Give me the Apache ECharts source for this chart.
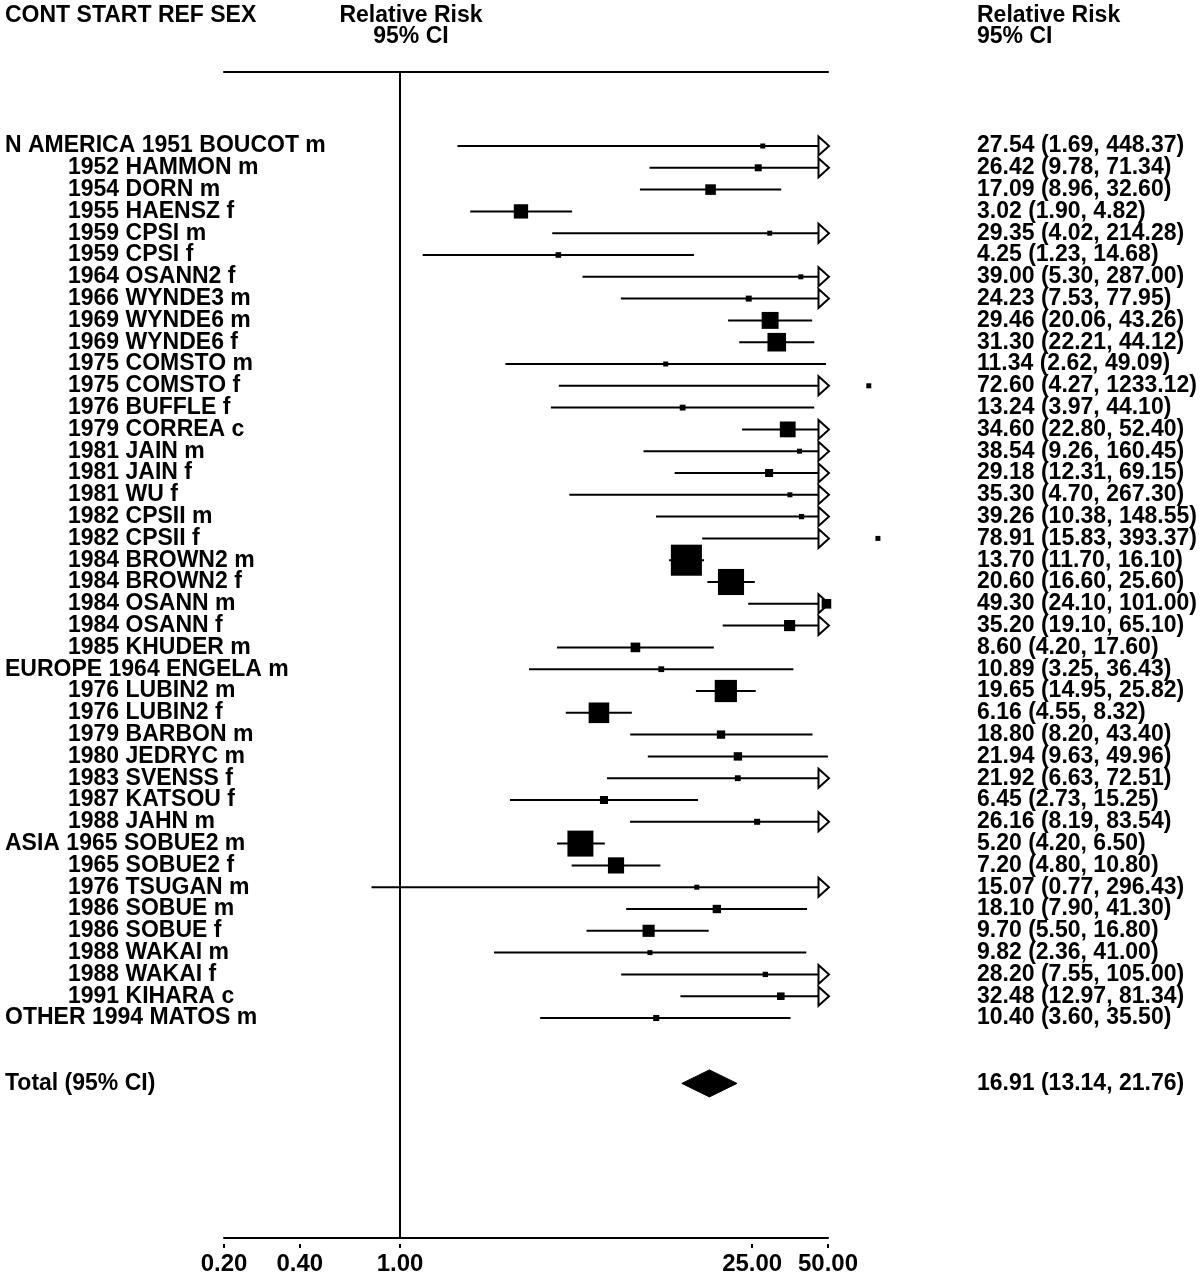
<!DOCTYPE html>
<html>
<head>
<meta charset="utf-8">
<script src="https://cdn.jsdelivr.net/npm/echarts@6/dist/echarts.min.js"></script>
<style>
html,body{margin:0;padding:0;background:#fff;}
#chart{width:1200px;height:1278px;}
</style>
</head>
<body>
<div id="chart"></div>
<script>
// ---------------- data ----------------
const regions = ['N AMERICA','','','','','','','','','','','','','','','','','','','','','','','',
  'EUROPE','','','','','','','',
  'ASIA','','','','','','','',
  'OTHER'];
const studies = ['1951 BOUCOT m','1952 HAMMON m','1954 DORN m','1955 HAENSZ f','1959 CPSI m','1959 CPSI f',
  '1964 OSANN2 f','1966 WYNDE3 m','1969 WYNDE6 m','1969 WYNDE6 f','1975 COMSTO m','1975 COMSTO f',
  '1976 BUFFLE f','1979 CORREA c','1981 JAIN m','1981 JAIN f','1981 WU f','1982 CPSII m','1982 CPSII f',
  '1984 BROWN2 m','1984 BROWN2 f','1984 OSANN m','1984 OSANN f','1985 KHUDER m',
  '1964 ENGELA m','1976 LUBIN2 m','1976 LUBIN2 f','1979 BARBON m','1980 JEDRYC m','1983 SVENSS f',
  '1987 KATSOU f','1988 JAHN m',
  '1965 SOBUE2 m','1965 SOBUE2 f','1976 TSUGAN m','1986 SOBUE m','1986 SOBUE f','1988 WAKAI m',
  '1988 WAKAI f','1991 KIHARA c',
  '1994 MATOS m'];
const rr = [27.54,26.42,17.09,3.02,29.35,4.25,39.00,24.23,29.46,31.30,11.34,72.60,13.24,34.60,38.54,29.18,
  35.30,39.26,78.91,13.70,20.60,49.30,35.20,8.60,10.89,19.65,6.16,18.80,21.94,21.92,6.45,26.16,5.20,7.20,
  15.07,18.10,9.70,9.82,28.20,32.48,10.40];
const lower = [1.69,9.78,8.96,1.90,4.02,1.23,5.30,7.53,20.06,22.21,2.62,4.27,3.97,22.80,9.26,12.31,4.70,
  10.38,15.83,11.70,16.60,24.10,19.10,4.20,3.25,14.95,4.55,8.20,9.63,6.63,2.73,8.19,4.20,4.80,0.77,7.90,
  5.50,2.36,7.55,12.97,3.60];
const upper = [448.37,71.34,32.60,4.82,214.28,14.68,287.00,77.95,43.26,44.12,49.09,1233.12,44.10,52.40,
  160.45,69.15,267.30,148.55,393.37,16.10,25.60,101.00,65.10,17.60,36.43,25.82,8.32,43.40,49.96,72.51,
  15.25,83.54,6.50,10.80,296.43,41.30,16.80,41.00,105.00,81.34,35.50];
const totalLabel = 'Total (95% CI)';
const totalRR = 16.91, totalLower = 13.14, totalUpper = 21.76;
const xTicks = [0.2, 0.4, 1, 25, 50];

// ---------------- layout ----------------
const FONT = '"Liberation Sans", Arial, Helvetica, sans-serif';
const FS = 23;
const LH = 18;
const GRID_TOP = 72, GRID_BOTTOM_Y = 1238, FIRST_ROW_Y = 146, ROW_H = 21.8;
const X_MIN = 0.2, X_MAX = 50;
const TAU2 = 0.0068, BOX_K = 3.6, BOX_MIN = 5;

const nStudies = studies.length;
const totalRow = nStudies + 2;
const yMin = -(FIRST_ROW_Y - GRID_TOP) / ROW_H;
const yMax = (GRID_BOTTOM_Y - FIRST_ROW_Y) / ROW_H;

// label slots: blank guards at both ends keep the axis from hiding the first/last row labels
const rowValues = [yMin];
const leftLabels = {};
const rightLabels = {};
for (let i = 0; i < nStudies; i++) {
  rowValues.push(i);
  leftLabels[i] = regions[i] ? regions[i] + ' ' + studies[i] : '{ind|' + studies[i] + '}';
  rightLabels[i] = rr[i].toFixed(2) + ' (' + lower[i].toFixed(2) + ', ' + upper[i].toFixed(2) + ')';
}
rowValues.push(totalRow);
rowValues.push(yMax);
leftLabels[totalRow] = totalLabel;
rightLabels[totalRow] = totalRR.toFixed(2) + ' (' + totalLower.toFixed(2) + ', ' + totalUpper.toFixed(2) + ')';

function rowText(map, v) {
  const k = Math.round(v);
  if (Math.abs(v - k) > 1e-6) return ' ';
  return map[k] || ' ';
}

const studyData = rr.map((v, i) => {
  const se = (Math.log(upper[i]) - Math.log(lower[i])) / (2 * 1.96);
  const w = 1 / (se * se + TAU2);
  return [lower[i], upper[i], v, i, w];
});

function renderStudy(params, api) {
  const lo = api.value(0), hi = api.value(1), est = api.value(2), row = api.value(3), w = api.value(4);
  const y = api.coord([1, row])[1];
  const xLo = api.coord([Math.max(lo, X_MIN), row])[0];
  const xHi = api.coord([Math.min(hi, X_MAX), row])[0];
  const xE = api.coord([est, row])[0];
  const s = Math.max(BOX_MIN, BOX_K * Math.sqrt(w));
  const children = [{
    type: 'line',
    shape: {x1: xLo, y1: y, x2: xHi, y2: y},
    style: {stroke: '#000', lineWidth: 2}
  }];
  if (hi > X_MAX) {
    children.push({
      type: 'polygon',
      shape: {points: [[xHi - 9.5, y - 9.5], [xHi + 1, y], [xHi - 9.5, y + 9.5]]},
      style: {fill: '#fff', stroke: '#000', lineWidth: 2, lineJoin: 'miter'}
    });
  }
  children.push({
    type: 'rect',
    shape: {x: xE - s / 2, y: y - s / 2, width: s, height: s},
    style: {fill: '#000'}
  });
  return {type: 'group', children: children};
}

function renderTotal(params, api) {
  const row = api.value(3);
  const y = api.coord([1, row])[1];
  const xLo = api.coord([api.value(0), row])[0];
  const xHi = api.coord([api.value(1), row])[0];
  const xE = api.coord([api.value(2), row])[0];
  const h = 13.5;
  return {
    type: 'polygon',
    shape: {points: [[xLo, y], [xE, y - h], [xHi, y], [xE, y + h]]},
    style: {fill: '#000', stroke: '#000', lineWidth: 1}
  };
}

const chart = echarts.init(document.getElementById('chart'), null, {renderer: 'canvas'});
const labelBase = {fontFamily: FONT, fontSize: FS, fontWeight: 'bold', color: '#000', lineHeight: LH};

chart.setOption({
  animation: false,
  backgroundColor: '#fff',
  grid: {left: 224, right: 372, top: GRID_TOP, bottom: 1278 - GRID_BOTTOM_Y, containLabel: false},
  xAxis: [
    {
      type: 'log', logBase: 10, min: X_MIN, max: X_MAX, position: 'bottom',
      axisLine: {show: true, onZero: false, lineStyle: {color: '#000', width: 2}},
      axisTick: {show: false}, axisLabel: {show: false}, splitLine: {show: false}
    },
    {
      type: 'log', logBase: 10, min: X_MIN, max: X_MAX, position: 'top',
      axisLine: {show: true, onZero: false, lineStyle: {color: '#000', width: 2}},
      axisTick: {show: false}, axisLabel: {show: false}, splitLine: {show: false}
    },
    {
      type: 'log', logBase: 10, min: X_MIN, max: X_MAX, position: 'bottom', offset: 6,
      axisLine: {show: false, onZero: false},
      axisTick: {show: true, length: 4, customValues: xTicks, lineStyle: {color: '#000', width: 2}},
      axisLabel: Object.assign({show: true, margin: 8, customValues: xTicks,
        showMinLabel: true, showMaxLabel: true, hideOverlap: false,
        formatter: v => Number(v).toFixed(2)}, labelBase, {fontSize: 24, lineHeight: 24}),
      splitLine: {show: false}
    }
  ],
  yAxis: [
    {
      type: 'value', min: yMin, max: yMax, inverse: true, position: 'left',
      axisLine: {show: false}, axisTick: {show: false}, splitLine: {show: false},
      axisLabel: Object.assign({
        show: true, align: 'left', margin: 219, customValues: rowValues,
        showMinLabel: true, showMaxLabel: true, hideOverlap: false,
        formatter: v => rowText(leftLabels, v),
        rich: {ind: Object.assign({padding: [0, 0, 0, 63]}, labelBase)}
      }, labelBase)
    },
    {
      type: 'value', min: yMin, max: yMax, inverse: true, position: 'right',
      axisLine: {show: false}, axisTick: {show: false}, splitLine: {show: false},
      axisLabel: Object.assign({
        show: true, align: 'left', margin: 149, customValues: rowValues,
        showMinLabel: true, showMaxLabel: true, hideOverlap: false,
        formatter: v => rowText(rightLabels, v)
      }, labelBase)
    }
  ],
  graphic: [
    {type: 'text', left: 5, top: 4, style: {text: 'CONT START REF SEX', font: 'bold ' + FS + 'px ' + FONT, fill: '#000'}},
    {type: 'text', x: 411, y: 16, style: {text: 'Relative Risk', font: 'bold ' + FS + 'px ' + FONT, fill: '#000', align: 'center', verticalAlign: 'middle'}},
    {type: 'text', x: 411, y: 37, style: {text: '95% CI', font: 'bold ' + FS + 'px ' + FONT, fill: '#000', align: 'center', verticalAlign: 'middle'}},
    {type: 'text', x: 977, y: 16, style: {text: 'Relative Risk', font: 'bold ' + FS + 'px ' + FONT, fill: '#000', align: 'left', verticalAlign: 'middle'}},
    {type: 'text', x: 977, y: 37, style: {text: '95% CI', font: 'bold ' + FS + 'px ' + FONT, fill: '#000', align: 'left', verticalAlign: 'middle'}}
  ],
  series: [
    {
      type: 'custom', name: 'studies', xAxisIndex: 0, yAxisIndex: 0, clip: false,
      renderItem: renderStudy, data: studyData,
      encode: {x: [0, 1, 2], y: 3},
      markLine: {
        silent: true, symbol: ['none', 'none'], label: {show: false},
        lineStyle: {color: '#000', width: 2, type: 'solid'},
        data: [{xAxis: 1}]
      }
    },
    {
      type: 'custom', name: 'total', xAxisIndex: 0, yAxisIndex: 0, clip: false,
      renderItem: renderTotal, data: [[totalLower, totalUpper, totalRR, totalRow]],
      encode: {x: [0, 1, 2], y: 3}
    }
  ]
});
</script>
</body>
</html>
